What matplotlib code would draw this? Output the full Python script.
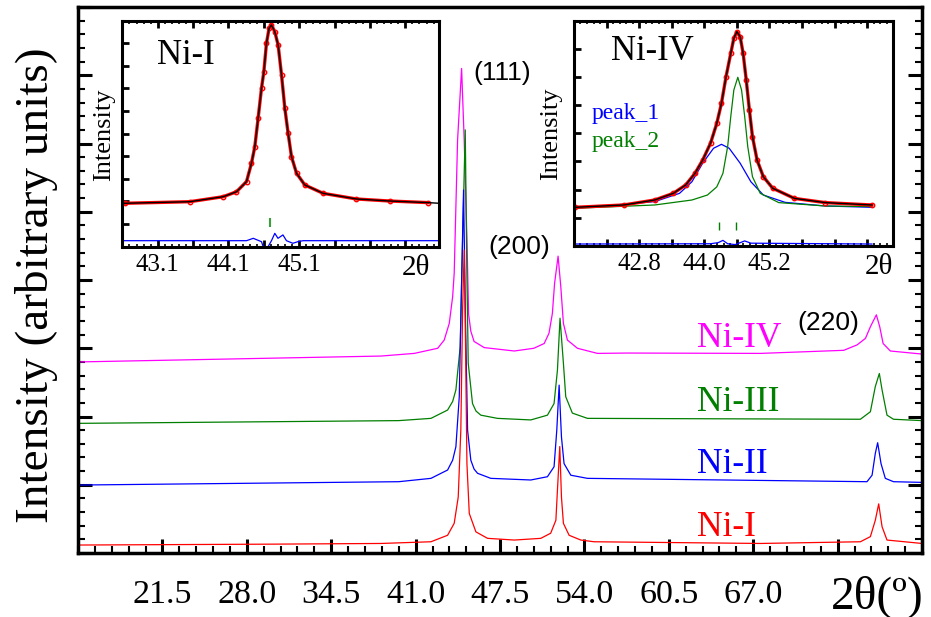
import numpy as np
import matplotlib
matplotlib.use('Agg')
import matplotlib.pyplot as plt

plt.rcParams['font.family'] = ['Liberation Serif', 'DejaVu Serif']

### Main XRD patterns (2theta in deg, stacked intensity in arbitrary units)
ni1_x = [15.1, 30.0, 38.33, 42.18, 43.46, 43.97, 44.28, 44.48, 44.62, 44.74, 44.84, 44.95,
         45.13, 45.64, 46.54, 48.6, 50.64, 51.4, 51.8, 51.92, 52.1, 52.23, 52.38, 52.82,
         53.72, 54.74, 67.56, 75.25, 76.02, 76.4, 76.66, 76.92, 77.3, 80.0]
ni1_y = [0.117, 0.13, 0.14, 0.165, 0.26, 0.435, 0.82, 1.8, 3.6, 4.44, 3.1, 1.31,
         0.58, 0.31, 0.215, 0.19, 0.215, 0.29, 0.48, 0.92, 1.56, 0.82, 0.435, 0.26,
         0.19, 0.165, 0.14, 0.165, 0.24, 0.48, 0.72, 0.385, 0.19, 0.14]

ni2_x = [15.1, 39.7, 42.18, 43.46, 43.85, 44.1, 44.36, 44.52, 44.69, 44.84, 45.0, 45.25,
         45.5, 45.77, 46.79, 49.87, 51.15, 51.66, 51.87, 52.05, 52.23, 52.43, 52.95, 54.23,
         75.76, 76.15, 76.4, 76.58, 76.84, 77.17, 77.8, 80.0]
ni2_y = [0.996, 1.045, 1.094, 1.216, 1.36, 1.557, 2.29, 3.8, 5.32, 3.4, 1.8, 1.36,
         1.23, 1.168, 1.094, 1.07, 1.118, 1.264, 1.8, 2.46, 1.7, 1.31, 1.14, 1.094,
         1.045, 1.14, 1.46, 1.616, 1.31, 1.094, 1.045, 1.035]

ni3_x = [15.1, 39.7, 42.18, 43.46, 43.85, 44.1, 44.43, 44.62, 44.82, 44.94, 45.05, 45.38,
         45.65, 46.02, 47.3, 49.87, 51.15, 51.66, 51.92, 52.12, 52.38, 52.56, 53.07, 54.23,
         75.25, 76.02, 76.4, 76.71, 76.92, 77.3, 77.8, 80.0]
ni3_y = [1.9, 1.94, 1.973, 2.095, 2.22, 2.39, 3.02, 4.6, 6.2, 4.2, 2.78, 2.19,
         2.08, 2.02, 1.973, 1.95, 2.02, 2.19, 2.68, 3.44, 2.78, 2.29, 2.05, 1.973,
         1.96, 2.07, 2.44, 2.63, 2.39, 2.02, 1.96, 1.94]

ni4_x = [15.1, 38.33, 40.9, 42.7, 43.2, 43.59, 43.85, 43.97, 44.23, 44.54, 44.74, 44.95,
         45.08, 45.25, 45.5, 46.28, 48.6, 50.1, 50.9, 51.27, 51.53, 51.7, 51.97, 52.18,
         52.38, 52.69, 53.46, 55.0, 57.3, 67.56, 73.97, 75.0, 75.64, 76.02, 76.48, 76.74,
         77.0, 77.56, 80.0]
ni4_y = [2.8, 2.886, 2.925, 3.0, 3.12, 3.365, 3.755, 4.1, 6.05, 7.1, 6.05, 4.6,
         3.5, 3.25, 3.1, 3.01, 2.96, 3.0, 3.07, 3.22, 3.51, 3.95, 4.35, 3.9,
         3.365, 3.12, 3.0, 2.925, 2.93, 2.925, 2.97, 3.05, 3.145, 3.315, 3.49, 3.315,
         3.07, 2.96, 2.915]

sample_names = ['Ni-I', 'Ni-II', 'Ni-III', 'Ni-IV']
sample_colors = ['#ff0000', '#0000ff', '#007f00', '#ff00ff']
name_y = [0.38, 1.29, 2.21, 3.15]

hkl_labels = ['(111)', '(200)', '(220)']
hkl_x = [47.69, 48.95, 72.79]
hkl_y = [7.03, 4.48, 3.37]

main_ticks = [21.5, 28.0, 34.5, 41.0, 47.5, 54.0, 60.5, 67.0, 73.5, 80.0]
main_ticklabels = ['21.5', '28.0', '34.5', '41.0', '47.5', '54.0', '60.5', '67.0', '', '']

### Inset 1: Ni-I (111) profile fit
in1_x = [42.633, 43.553, 44.024, 44.213, 44.355, 44.425, 44.472, 44.519, 44.567, 44.6,
         44.637, 44.674, 44.708, 44.755, 44.802, 44.85, 44.897, 44.943, 44.991, 45.062,
         45.179, 45.438, 45.91, 46.381, 46.923]
in1_obs = [1.92, 1.99, 2.21, 2.43, 2.88, 3.69, 4.42, 5.68, 7.01, 7.74,
           9.0, 9.66, 9.81, 9.51, 8.92, 7.6, 6.12, 5.02, 3.98, 3.25,
           2.73, 2.36, 2.11, 2.02, 1.95]
in1_fit_end = (47.08, 1.92)
in1_res_x = [42.61, 44.355, 44.45, 44.567, 44.59, 44.66, 44.708, 44.755, 44.8, 44.87,
             44.92, 45.01, 45.08, 45.155, 47.08]
in1_res_y = [0.265, 0.265, 0.37, 0.22, 0.0, 0.0, 0.265, 0.59, 0.37, 0.52,
             0.265, 0.15, 0.22, 0.265, 0.265]
in1_pos = [44.684]
in1_ticks = [42.6, 43.1, 43.6, 44.1, 44.6, 45.1, 45.6, 46.1, 46.6]
in1_ticklabels = ['', '43.1', '', '44.1', '', '45.1', '', '', '']

### Inset 2: Ni-IV (111) profile with two components
in2_x = [41.628, 42.514, 43.086, 43.43, 43.657, 43.828, 43.97, 44.115, 44.23, 44.316,
         44.4, 44.487, 44.544, 44.6, 44.66, 44.715, 44.772, 44.83, 44.887, 44.972,
         45.087, 45.26, 45.66, 46.23, 47.087]
in2_obs = [1.374, 1.456, 1.633, 1.87, 2.166, 2.58, 3.05, 3.65, 4.357, 5.067,
           6.01, 6.84, 7.375, 7.61, 7.43, 6.84, 5.895, 4.83, 3.88, 3.05,
           2.46, 2.05, 1.69, 1.54, 1.456]
pk1_x = [41.628, 43.086, 43.544, 43.772, 43.97, 44.17, 44.316, 44.458, 44.66, 44.858,
         45.087, 45.487, 46.23, 47.087]
pk1_y = [1.34, 1.575, 1.87, 2.28, 2.94, 3.47, 3.61, 3.47, 2.94, 2.28,
         1.81, 1.55, 1.42, 1.374]
pk2_x = [41.628, 43.086, 43.772, 44.058, 44.23, 44.343, 44.43, 44.487, 44.544, 44.617,
         44.686, 44.744, 44.8, 44.887, 45.03, 45.372, 46.23, 47.087]
pk2_y = [1.34, 1.456, 1.633, 1.81, 2.1, 2.58, 3.53, 4.59, 5.54, 5.99,
         5.54, 4.59, 3.53, 2.46, 1.87, 1.54, 1.42, 1.4]
in2_res_x = [41.628, 44.115, 44.257, 44.343, 44.43, 44.57, 44.744, 44.858, 47.087]
in2_res_y = [0.07, 0.08, 0.12, 0.2, 0.08, 0.05, 0.18, 0.1, 0.07]
in2_pos = [44.274, 44.59]
in2_ticks = [41.6, 42.2, 42.8, 43.4, 44.0, 44.6, 45.2, 45.8, 46.4, 47.0]
in2_ticklabels = ['', '', '42.8', '', '44.0', '', '45.2', '', '', '']

### Main figure
fig = plt.figure(figsize=(9.31, 6.17), dpi=100)
ax = fig.add_axes([0.0838, 0.1037, 0.9066, 0.8849])

for xs, ys, c in [(ni4_x, ni4_y, sample_colors[3]), (ni3_x, ni3_y, sample_colors[2]),
                  (ni2_x, ni2_y, sample_colors[1]), (ni1_x, ni1_y, sample_colors[0])]:
    ax.plot(xs, ys, color=c, lw=0.9)

for name, c, yy in zip(sample_names, sample_colors, name_y):
    ax.text(62.64, yy, name, color=c, fontsize=25.5, ha='left', va='center')
for lab, xx, yy in zip(hkl_labels, hkl_x, hkl_y):
    ax.text(xx, yy, lab, fontsize=19, family='Liberation Sans', ha='center', va='center')

ax.set_xlim(15.1, 80.0)
ax.set_ylim(0, 8)
ax.set_xticks(main_ticks)
ax.set_xticklabels(main_ticklabels)
ax.set_xticks(np.arange(15.0, 80.01, 1.3), minor=True)
ax.set_yticks(np.arange(0, 9, 1))
ax.set_yticklabels([])
ax.set_yticks(np.arange(0, 8.01, 0.2), minor=True)
ax.tick_params(which='both', direction='in', top=False, right=True, left=True, bottom=True)
ax.tick_params(which='major', length=10, width=2.2, labelsize=24.5, pad=19)
ax.tick_params(which='minor', length=5, width=1.5)
for s in ax.spines.values():
    s.set_linewidth(2.5)
ax.set_ylabel('Intensity (arbitrary units)', fontsize=34)
ax.yaxis.set_label_coords(-0.024, 0.49)
ax.text(0.9467, -0.0806, '2θ(º)', transform=ax.transAxes, fontsize=34,
        ha='center', va='center')

## Insets
def style_inset(a, ticks, labels, minor_step, ymax):
    a.set_xticks(ticks)
    a.set_xticklabels(labels)
    a.set_xticks(np.arange(ticks[0], ticks[-1] + 0.5, minor_step), minor=True)
    a.set_yticks(np.arange(1, ymax))
    a.set_yticklabels([])
    a.set_ylim(0, ymax)
    a.tick_params(which='both', direction='in', top=True, right=False, left=True, bottom=True)
    a.tick_params(which='major', length=5, width=2, labelsize=18, pad=5)
    a.tick_params(which='minor', length=2.5, width=1.2)
    a.tick_params(axis='y', which='minor', left=False)
    for s in a.spines.values():
        s.set_linewidth(2.2)
    a.set_ylabel('Intensity', fontsize=19)

ax1 = fig.add_axes([0.1307, 0.6002, 0.3411, 0.3663])
ax1.plot(in1_x, in1_obs, color='#ff0000', lw=2.4, marker='o', ms=3.2, mfc='none', mew=1.0)
ax1.plot(in1_x + [in1_fit_end[0]], in1_obs + [in1_fit_end[1]], color='black', lw=1.0)
ax1.plot(in1_res_x, in1_res_y, color='#0000ff', lw=0.9)
ax1.vlines(in1_pos, 0.87, 1.26, color='#3aa03a', lw=1.5)
ax1.set_xlim(42.59, 47.08)
style_inset(ax1, in1_ticks, in1_ticklabels, 0.1, 10)
ax1.yaxis.set_label_coords(-0.02, 0.496)
ax1.text(0.2025, 0.848, 'Ni-I', transform=ax1.transAxes, fontsize=25, ha='center', va='center')
ax1.text(0.9267, -0.095, '2θ', transform=ax1.transAxes, fontsize=21, ha='center', va='center')

ax2 = fig.add_axes([0.6165, 0.6013, 0.343, 0.3652])
ax2.plot(pk1_x, pk1_y, color='#0000ff', lw=0.9)
ax2.plot(pk2_x, pk2_y, color='#007f00', lw=0.9)
ax2.plot(in2_x, in2_obs, color='#ff0000', lw=2.4, marker='o', ms=3.2, mfc='none', mew=1.0)
ax2.plot(in2_x, in2_obs, color='black', lw=1.0)
ax2.plot(in2_res_x, in2_res_y, color='#0000ff', lw=0.9)
ax2.vlines(in2_pos, 0.57, 0.85, color='#007f00', lw=1.0)
ax2.set_xlim(41.61, 47.087)
style_inset(ax2, in2_ticks, in2_ticklabels, 0.12, 8)
ax2.yaxis.set_label_coords(-0.038, 0.497)
ax2.text(0.246, 0.861, 'Ni-IV', transform=ax2.transAxes, fontsize=25, ha='center', va='center')
ax2.text(0.056, 0.59, 'peak_1', transform=ax2.transAxes, fontsize=17, color='#0000ff',
         ha='left', va='center')
ax2.text(0.056, 0.462, 'peak_2', transform=ax2.transAxes, fontsize=17, color='#007f00',
         ha='left', va='center')
ax2.text(0.955, -0.095, '2θ', transform=ax2.transAxes, fontsize=21, ha='center', va='center')

fig.savefig('out.png', dpi=100)
